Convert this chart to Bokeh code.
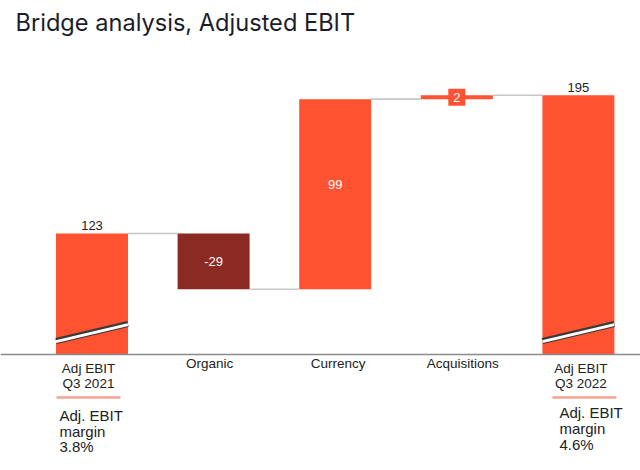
from bokeh.plotting import figure
from bokeh.models import Range1d, Span
from bokeh.embed import file_html
from bokeh.resources import INLINE
from bokeh.core.properties import value

# ---------------- data ----------------
categories = ["Adj EBIT\nQ3 2021", "Organic", "Currency", "Acquisitions", "Adj EBIT\nQ3 2022"]
start_value = 123
changes = [-29, 99, 2]
end_value = 195
value_labels = ["123", "-29", "99", "2", "195"]
margin_notes = ["Adj. EBIT\nmargin\n3.8%", "Adj. EBIT\nmargin\n4.6%"]
title_text = "Bridge analysis, Adjusted EBIT"

# ---------------- layout / style ----------------
W, H = 640, 470
X_PX = 121.6          # pixels per category
Y_PX = 1.92           # pixels per EBIT unit
X0_PX = 91.5          # pixel x of first category centre
BASE_PX = 354         # pixel y of the (broken) axis baseline
BASE = 60             # value shown at the broken baseline
BAR_W = 0.592
ORANGE = "#FF5230"
DARK_RED = "#8B2A22"
GREY = "#C8C8C8"
TEXT = "#222222"
FONT = value("Liberation Sans")

def dx(px):
    return px / X_PX

def dy(px):
    return px / Y_PX

p = figure(width=W, height=H,
           x_range=Range1d(-X0_PX / X_PX, (W - X0_PX) / X_PX),
           y_range=Range1d(BASE - (H - BASE_PX) / Y_PX, BASE + BASE_PX / Y_PX),
           output_backend="svg", toolbar_location=None,
           x_axis_location=None, y_axis_location=None,
           min_border=0, min_border_left=0, min_border_right=0,
           min_border_top=0, min_border_bottom=0)
p.grid.visible = False
p.outline_line_color = None
p.background_fill_color = "white"
p.border_fill_color = "white"

# ---------------- waterfall computation ----------------
levels = [start_value]
for c in changes:
    levels.append(levels[-1] + c)
n = len(categories)
xs = list(range(n))
bottoms = [BASE] + [min(levels[i], levels[i + 1]) for i in range(len(changes))] + [BASE]
tops = [start_value] + [max(levels[i], levels[i + 1]) for i in range(len(changes))] + [end_value]
colors = [ORANGE] + [ORANGE if c >= 0 else DARK_RED for c in changes] + [ORANGE]

# connectors
p.segment(x0=[i + BAR_W / 2 for i in range(n - 1)],
          x1=[i + 1 - BAR_W / 2 for i in range(n - 1)],
          y0=levels, y1=levels, line_color=GREY, line_width=1.6)

# bars
p.quad(left=[x - BAR_W / 2 for x in xs], right=[x + BAR_W / 2 for x in xs],
       bottom=bottoms, top=tops, fill_color=colors, line_color=None)

# axis-break marks on total bars
for i in (0, n - 1):
    yl, yr = BASE + dy(13.5), BASE + dy(30.5)
    p.segment(x0=[i - BAR_W / 2], x1=[i + BAR_W / 2], y0=[yl], y1=[yr],
              line_color="#3a3a3a", line_width=6)
    p.segment(x0=[i - BAR_W / 2], x1=[i + BAR_W / 2], y0=[yl - dy(0.6)], y1=[yr - dy(0.6)],
              line_color="white", line_width=3)

# baseline
p.add_layout(Span(location=BASE, dimension="width", line_color="#8a8a8a", line_width=1.5))

# ---------------- value labels ----------------
p.text(x=[0, n - 1], y=[tops[0], tops[-1]], text=[value_labels[0], value_labels[-1]],
       y_offset=[-8.5, -8], text_align="center", text_baseline="middle",
       text_font=FONT, text_font_size="13px", text_color=TEXT)
p.text(x=[1, 2], y=[(bottoms[1] + tops[1]) / 2, (bottoms[2] + tops[2]) / 2],
       text=[value_labels[1], value_labels[2]], y_offset=[0, -10],
       text_align="center", text_baseline="middle",
       text_font=FONT, text_font_size="13px", text_color="white")
mid3 = (bottoms[3] + tops[3]) / 2
p.rect(x=[3], y=[mid3], width=17, height=17, width_units="screen", height_units="screen",
       fill_color=ORANGE, line_color=None)
p.text(x=[3], y=[mid3], text=[value_labels[3]], text_align="center", text_baseline="middle",
       text_font=FONT, text_font_size="13px", text_color="white")

# ---------------- category labels ----------------
cx_off = [-3.5, -4, 3, 6, 2.5]
lx, ly, lt, lxo, lyo = [], [], [], [], []
for i, lab in enumerate(categories):
    lines = lab.split("\n")
    offs = [8.5] if len(lines) == 1 else [14, 29]
    for line, o in zip(lines, offs):
        lx.append(i); ly.append(BASE); lt.append(line); lxo.append(cx_off[i]); lyo.append(o)
p.text(x=lx, y=ly, text=lt, x_offset=lxo, y_offset=lyo, text_align="center",
       text_baseline="middle", text_font=FONT, text_font_size="13.5px", text_color=TEXT)

# ---------------- margin notes ----------------
note_idx = [0, n - 1]
note_xoff = [-32.5, -19]
note_first = [61, 58]
note_step = [15.6, 15.9]
ul_left = [-35.5, -26]
ul_right = [28.5, 38]
nx, ny, nt, nxo, nyo = [], [], [], [], []
for j, note in enumerate(margin_notes):
    for k, line in enumerate(note.split("\n")):
        nx.append(note_idx[j]); ny.append(BASE); nt.append(line)
        nxo.append(note_xoff[j]); nyo.append(note_first[j] + k * note_step[j])
p.text(x=nx, y=ny, text=nt, x_offset=nxo, y_offset=nyo, text_align="left",
       text_baseline="middle", text_font=FONT, text_font_size="15px", text_color=TEXT)
p.segment(x0=[note_idx[j] + dx(ul_left[j]) for j in range(2)],
          x1=[note_idx[j] + dx(ul_right[j]) for j in range(2)],
          y0=[BASE - dy(43)] * 2, y1=[BASE - dy(43)] * 2,
          line_color="#F6A391", line_width=2.5)

# ---------------- title ----------------
p.text(x=[p.x_range.start], y=[p.y_range.end], text=[title_text], x_offset=15, y_offset=22,
       text_align="left", text_baseline="middle", text_font=value("Inter"),
       text_font_size="23.6px", text_color="#1b1d2b")

open("out.html", "w").write(file_html(p, INLINE))
